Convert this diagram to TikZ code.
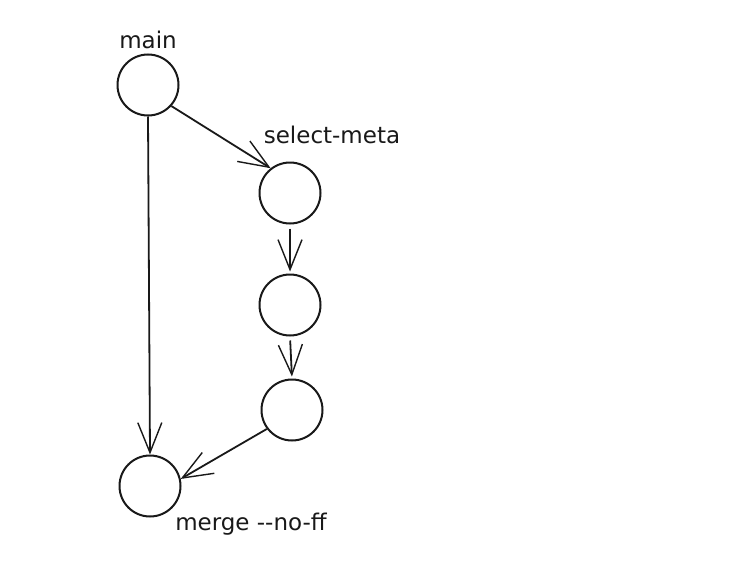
\documentclass[tikz,border=0pt]{standalone}
\usepackage{fontspec}
\setmainfont{DejaVu Sans}
\usetikzlibrary{arrows.meta}
\begin{document}
\begin{tikzpicture}[x=1pt,y=-1pt,
  commit/.style={circle,draw=black!90,line width=2pt,minimum size=61pt,inner sep=0pt},
  conn/.style={draw=black!90,line width=1.8pt,-{Straight Barb[length=30pt,width=24pt,line width=1.4pt]}},
  lbl/.style={font=\fontsize{23}{27}\selectfont,text=black!90,inner sep=0pt}]
\useasboundingbox[fill=white] (0,0) rectangle (736,562);
\node[commit] (main) at (148,85) {};
\node[commit] (sm) at (290,193) {};
\node[commit] (c2) at (290,305) {};
\node[commit] (c3) at (292,410) {};
\node[commit] (merge) at (150,486) {};
\node[lbl] (lmain) at (148,40) {main};
\node[lbl] (lsm) at (332,135) {select-meta};
\node[lbl] (lmerge) at (251,524) {merge -{}-no-ff};
\draw[conn] (main.-90) -- (merge.90);
\draw[conn] (main.-42) -- (sm.128);
\draw[conn,shorten >=2pt,shorten <=4pt] (sm.-90) -- (c2.90);
\draw[conn,shorten >=2pt,shorten <=4pt] (c2.-90) -- (c3.90);
\draw[conn] (c3.217) -- (merge.13);
\end{tikzpicture}
\end{document}
